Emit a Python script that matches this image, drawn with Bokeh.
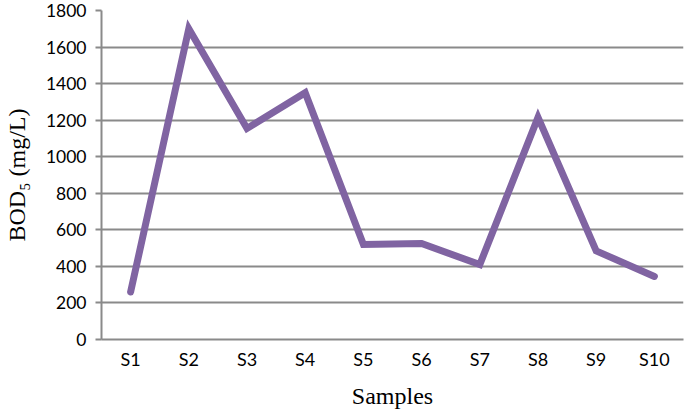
from bokeh.plotting import figure
from bokeh.embed import file_html
from bokeh.resources import INLINE
from bokeh.models import FixedTicker

samples = ["S1", "S2", "S3", "S4", "S5", "S6", "S7", "S8", "S9", "S10"]
bod5 = [260, 1700, 1155, 1350, 520, 525, 410, 1215, 485, 345]
y_ticks = [0, 200, 400, 600, 800, 1000, 1200, 1400, 1600, 1800]

p = figure(x_range=samples, y_range=(0, 1800), width=685, height=411,
           output_backend="svg", toolbar_location=None,
           min_border_left=97, min_border_right=2, min_border_top=10, min_border_bottom=72)
p.outline_line_color = None
p.x_range.range_padding = 0

p.line(samples, bod5, line_color="#8064A2", line_width=7, line_join="miter", line_cap="round")

grid_col = "#8a8a8a"
p.xgrid.grid_line_color = None
p.ygrid.grid_line_color = grid_col
p.ygrid.grid_line_width = 2
p.yaxis.ticker = FixedTicker(ticks=y_ticks)

for ax in (p.xaxis[0], p.yaxis[0]):
    ax.axis_line_color = grid_col
    ax.axis_line_width = 2
    ax.major_label_text_font = "Lato"
    ax.major_label_text_font_size = "17.5px"
    ax.major_label_text_color = "#000000"
    ax.axis_label_text_font = "Liberation Serif"
    ax.axis_label_text_font_style = "normal"
    ax.axis_label_text_font_size = "24px"
    ax.axis_label_text_color = "#000000"
    ax.minor_tick_line_color = None

p.xaxis.major_label_text_font_size = "18px"

p.yaxis.major_tick_line_color = grid_col
p.yaxis.major_tick_line_width = 2
p.yaxis.major_tick_out = 6
p.yaxis.major_tick_in = 0
p.yaxis.major_label_standoff = 9
p.yaxis.axis_label = "BOD\u2085 (mg/L)"
p.yaxis.axis_label_standoff = 13

p.xaxis.major_tick_line_color = None
p.xaxis.major_tick_out = 0
p.xaxis.major_tick_in = 0
p.xaxis.major_label_standoff = 8
p.xaxis.axis_label = "Samples"
p.xaxis.axis_label_standoff = 10

open("out.html", "w").write(file_html(p, INLINE))
